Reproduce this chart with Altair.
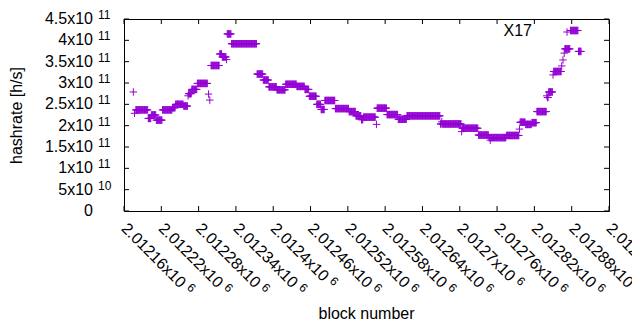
import altair as alt
import pandas as pd

# Runs of blocks that share the same hashrate (block number range, value in 1e11 h/s)
seg_start = [2012175, 2012177, 2012179, 2012199, 2012204, 2012212, 2012222, 2012238, 2012243, 2012256,
             2012263, 2012264, 2012269, 2012278, 2012296, 2012298, 2012300, 2012314, 2012318, 2012325,
             2012326, 2012333, 2012374, 2012384, 2012393, 2012406, 2012420, 2012438, 2012451, 2012458,
             2012470, 2012477, 2012483, 2012500, 2012522, 2012533, 2012542, 2012545, 2012566, 2012567,
             2012583, 2012601, 2012615, 2012669, 2012671, 2012672, 2012703, 2012704, 2012730, 2012747,
             2012749, 2012750, 2012775, 2012796, 2012797, 2012806, 2012816, 2012824, 2012840, 2012841,
             2012843, 2012850, 2012851, 2012864, 2012866, 2012868, 2012869, 2012878, 2012891]
seg_end = [2012175, 2012177, 2012198, 2012203, 2012211, 2012221, 2012237, 2012242, 2012255, 2012262,
           2012263, 2012268, 2012277, 2012294, 2012296, 2012298, 2012313, 2012317, 2012324, 2012325,
           2012332, 2012373, 2012383, 2012392, 2012405, 2012419, 2012437, 2012450, 2012457, 2012469,
           2012476, 2012482, 2012499, 2012521, 2012532, 2012541, 2012544, 2012564, 2012566, 2012582,
           2012600, 2012614, 2012668, 2012670, 2012671, 2012702, 2012703, 2012729, 2012746, 2012748,
           2012749, 2012774, 2012795, 2012796, 2012805, 2012815, 2012823, 2012839, 2012840, 2012842,
           2012849, 2012850, 2012863, 2012864, 2012866, 2012868, 2012877, 2012890, 2012895]
seg_hashrate = [2.79, 2.29, 2.37, 2.17, 2.25, 2.13, 2.37, 2.42, 2.50, 2.46,
                2.70, 2.75, 2.85, 2.99, 2.74, 2.60, 3.41, 3.68, 3.61, 3.55,
                4.15, 3.92, 3.21, 3.07, 2.91, 2.84, 2.97, 2.92, 2.85, 2.69,
                2.50, 2.38, 2.59, 2.40, 2.33, 2.23, 2.14, 2.20, 2.03, 2.41,
                2.26, 2.15, 2.23, 2.04, 2.09, 2.04, 1.86, 1.94, 1.78, 1.72,
                1.66, 1.72, 1.77, 1.92, 2.08, 2.03, 2.07, 2.33, 2.70, 2.66,
                2.79, 3.19, 3.27, 3.40, 3.54, 3.70, 3.80, 4.23, 3.74]
series_name = "X17"

x_tick_values = [2012160, 2012220, 2012280, 2012340, 2012400, 2012460, 2012520,
                 2012580, 2012640, 2012700, 2012760, 2012820, 2012880, 2012940]
x_tick_mantissa = ["2.01216x10", "2.01222x10", "2.01228x10", "2.01234x10", "2.0124x10",
                   "2.01246x10", "2.01252x10", "2.01258x10", "2.01264x10", "2.0127x10",
                   "2.01276x10", "2.01282x10", "2.01288x10", "2.01294x10"]
x_tick_exponent = ["6"] * len(x_tick_values)
y_tick_values = [0, 5e10, 1e11, 1.5e11, 2e11, 2.5e11, 3e11, 3.5e11, 4e11, 4.5e11]
y_tick_mantissa = ["0", "5x10", "1x10", "1.5x10", "2x10", "2.5x10", "3x10", "3.5x10", "4x10", "4.5x10"]
y_tick_exponent = ["", "10", "11", "11", "11", "11", "11", "11", "11", "11"]

rows = []
for s, e, v in zip(seg_start, seg_end, seg_hashrate):
    for b in range(s, e + 1):
        rows.append({"block": b, "hashrate": v * 1e11, "series": series_name})
df = pd.DataFrame(rows)
xt = pd.DataFrame({"block": x_tick_values, "mant": x_tick_mantissa, "expo": x_tick_exponent})
yt = pd.DataFrame({"hashrate": y_tick_values, "mant": y_tick_mantissa, "expo": y_tick_exponent})
xt_long = xt[xt["mant"].str.len() == 10]
xt_short = xt[xt["mant"].str.len() == 9]
key_df = pd.DataFrame({"series": [series_name]})

W, H = 485, 192
FONT = "Liberation Sans"
FS, FS_SUP = 16, 12
COLOR = "#9400D3"
PLUS = "M-1,0L1,0M0,-1L0,1"
XLAB_PAD = 15

x_scale = alt.Scale(domain=[x_tick_values[0], x_tick_values[-1]], nice=False, zero=False)
y_scale = alt.Scale(domain=[y_tick_values[0], y_tick_values[-1]], nice=False)

x_axis = alt.Axis(
    values=x_tick_values, labels=False, ticks=False, domain=False, grid=False,
    title="block number", titleX=242, titleY=102, titleBaseline="middle", titleAlign="center",
)
y_axis = alt.Axis(
    values=y_tick_values, labels=False, ticks=False, domain=False, grid=False,
    title="hashrate [h/s]", titleX=-108, titleY=96, titleAngle=270,
    titleBaseline="middle", titleAlign="center",
)
X = alt.X("block:Q", scale=x_scale, axis=x_axis)
Y = alt.Y("hashrate:Q", scale=y_scale, axis=y_axis)

points = alt.Chart(df).mark_point(
    shape=PLUS, size=56, filled=False, strokeWidth=1, opacity=1, color=COLOR
).encode(x=X, y=Y)

tick_len = 5
rule = dict(color="black", strokeWidth=1)
left_ticks = alt.Chart(yt).mark_rule(**rule).encode(y=Y, x=alt.value(0), x2=alt.value(tick_len))
right_ticks = alt.Chart(yt).mark_rule(**rule).encode(y=Y, x=alt.value(W - tick_len), x2=alt.value(W))
bottom_ticks = alt.Chart(xt).mark_rule(**rule).encode(x=X, y=alt.value(H - tick_len), y2=alt.value(H))
top_ticks = alt.Chart(xt).mark_rule(**rule).encode(x=X, y=alt.value(0), y2=alt.value(tick_len))

txt = dict(font=FONT, color="black")
y_main = alt.Chart(yt).mark_text(align="right", baseline="middle", fontSize=FS, **txt).encode(
    y=Y, x=alt.value(-31), text="mant:N")
y_sup = alt.Chart(yt).mark_text(align="left", baseline="middle", fontSize=FS_SUP, dy=-4, **txt).encode(
    y=Y, x=alt.value(-26), text="expo:N")

x_main = alt.Chart(xt).mark_text(angle=45, align="left", baseline="middle", fontSize=FS, **txt).encode(
    x=X, y=alt.value(H + XLAB_PAD), text="mant:N")
x_sup_long = alt.Chart(xt_long).mark_text(angle=45, align="left", baseline="middle", fontSize=FS_SUP,
                                          dx=88, dy=-4, **txt).encode(
    x=X, y=alt.value(H + XLAB_PAD), text="expo:N")
x_sup_short = alt.Chart(xt_short).mark_text(angle=45, align="left", baseline="middle", fontSize=FS_SUP,
                                            dx=79, dy=-4, **txt).encode(
    x=X, y=alt.value(H + XLAB_PAD), text="expo:N")

key_text = alt.Chart(key_df).mark_text(align="right", baseline="middle", fontSize=FS, **txt).encode(
    x=alt.value(408), y=alt.value(12), text="series:N")
key_symbol = alt.Chart(key_df).mark_point(
    shape=PLUS, size=56, filled=False, strokeWidth=1, opacity=1, color=COLOR
).encode(x=alt.value(443), y=alt.value(13))

chart = alt.layer(
    points, left_ticks, right_ticks, bottom_ticks, top_ticks,
    y_main, y_sup, x_main, x_sup_long, x_sup_short, key_text, key_symbol,
).properties(
    width=W, height=H,
    autosize=alt.AutoSizeParams(type="none"),
    padding={"left": 116, "top": 11, "right": 23, "bottom": 111},
    background="white",
).configure_view(
    stroke="black", strokeWidth=1
).configure_axis(
    titleFont=FONT, titleFontSize=FS, titleColor="black", titleFontWeight="normal",
)

chart.save("out.html", embed_options={"renderer": "svg", "actions": False})
